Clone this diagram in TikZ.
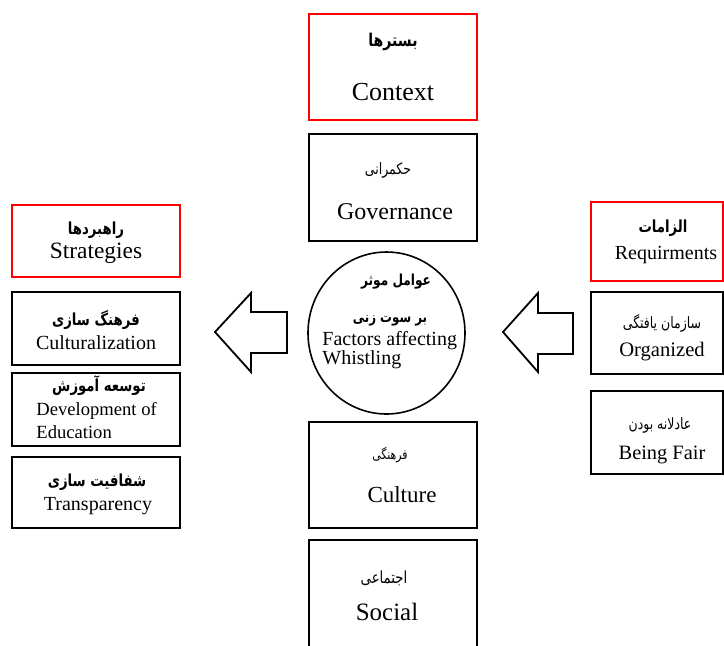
\documentclass[tikz,border=0pt]{standalone}
\usepackage{fontspec}
\setmainfont{Liberation Serif}
\newfontfamily\arabicfont[Script=Arabic, FakeStretch=0.8]{DejaVu Sans}
\TeXXeTstate=1
\newcommand{\pers}[1]{{\arabicfont\beginR #1\endR}}
\usetikzlibrary{shapes.geometric}

\begin{document}
\begin{tikzpicture}[x=0.5pt, y=-0.5pt,
    redbox/.style={draw=red, line width=1pt, inner sep=0pt},
    blkbox/.style={draw=black, line width=1pt, inner sep=0pt},
    fa/.style={inner sep=0pt, font=\fontsize{7.8}{9}\selectfont},
    fab/.style={inner sep=0pt, font=\bfseries\fontsize{8.3}{10}\selectfont},
    en/.style={inner sep=0pt, font=\fontsize{10}{12}\selectfont},
    bigarrow/.style={draw=black, line width=0.9pt, fill=white, line join=miter}]
\useasboundingbox (0,0) rectangle (724,645);

\node[redbox, minimum width=84pt, minimum height=53pt] (ctx) at (393,67) {};
\node[fab, font=\bfseries\fontsize{8.8}{10}\selectfont] (ctx_fa) at (393,42) {\pers{بسترها}};
\node[en, font=\fontsize{13}{15}\selectfont] (ctx_en) at (393,92) {Context};

\node[blkbox, minimum width=84pt, minimum height=53.5pt] (gov) at (393,187.5) {};
\node[fa] (gov_fa) at (388,170) {\pers{حکمرانی}};
\node[en, font=\fontsize{12}{14}\selectfont] (gov_en) at (395,212) {Governance};

\node[draw=black, line width=0.8pt, ellipse, inner sep=0pt, minimum width=78.5pt, minimum height=81pt] (fac) at (386.5,333) {};
\node[fab, font=\bfseries\fontsize{7.6}{9}\selectfont] (fac_fa1) at (396,282) {\pers{عوامل موثر}};
\node[fab, font=\bfseries\fontsize{7.4}{9}\selectfont] (fac_fa2) at (390,321) {\pers{بر سوت زنی}};
\node[en, anchor=base west] (fac_en1) at (322,345) {Factors affecting};
\node[en, anchor=base west] (fac_en2) at (322,364) {Whistling};

\node[blkbox, minimum width=84pt, minimum height=53pt] (cul) at (393,475) {};
\node[fa, font=\fontsize{6.8}{8}\selectfont] (cul_fa) at (390,455) {\pers{فرهنگی}};
\node[en, font=\fontsize{11.5}{14}\selectfont] (cul_en) at (402,495) {Culture};

\node[blkbox, minimum width=84pt, minimum height=56pt] (soc) at (393,596) {};
\node[fa, font=\fontsize{8.3}{10}\selectfont] (soc_fa) at (384,578) {\pers{اجتماعی}};
\node[en, font=\fontsize{12.5}{15}\selectfont] (soc_en) at (387,612) {Social};

\node[redbox, minimum width=84pt, minimum height=36pt] (str) at (96,241) {};
\node[fab] (str_fa) at (96,230) {\pers{راهبردها}};
\node[en, font=\fontsize{11.7}{14}\selectfont] (str_en) at (96,253) {Strategies};

\node[blkbox, minimum width=84pt, minimum height=36.5pt] (clz) at (96,328.5) {};
\node[fab] (clz_fa) at (96,320) {\pers{فرهنگ سازی}};
\node[en] (clz_en) at (96,343) {Culturalization};

\node[blkbox, minimum width=84pt, minimum height=36.5pt] (dev) at (96,409.5) {};
\node[fab] (dev_fa) at (99,386) {\pers{توسعه آموزش}};
\node[en, anchor=west, font=\fontsize{9.3}{11}\selectfont] (dev_en1) at (36,411) {Development of};
\node[en, anchor=west, font=\fontsize{9.3}{11}\selectfont] (dev_en2) at (36,432) {Education};

\node[blkbox, minimum width=84pt, minimum height=35.5pt] (trn) at (96,492.5) {};
\node[fab] (trn_fa) at (97,482) {\pers{شفافیت سازی}};
\node[en] (trn_en) at (98,506) {Transparency};

\node[redbox, minimum width=66pt, minimum height=39.5pt] (req) at (657,241.5) {};
\node[fab] (req_fa) at (663,228) {\pers{الزامات}};
\node[en] (req_en) at (666,255) {Requirments};

\node[blkbox, minimum width=66pt, minimum height=41pt] (org) at (657,333) {};
\node[fa] (org_fa) at (662,323) {\pers{سازمان یافتگی}};
\node[en, font=\fontsize{10.3}{12}\selectfont] (org_en) at (662,352) {Organized};

\node[blkbox, minimum width=66pt, minimum height=41.5pt] (fair) at (657,432.5) {};
\node[fa] (fair_fa) at (660,425) {\pers{عادلانه بودن}};
\node[en, font=\fontsize{10.2}{12}\selectfont] (fair_en) at (662,455) {Being Fair};

\draw[bigarrow] (215,332) -- (251,293) -- (251,312) -- (287,312) -- (287,353) -- (251,353) -- (251,372) -- cycle;
\draw[bigarrow] (503,332) -- (538,293) -- (538,313) -- (573,313) -- (573,354) -- (538,354) -- (538,372) -- cycle;
\end{tikzpicture}
\end{document}
